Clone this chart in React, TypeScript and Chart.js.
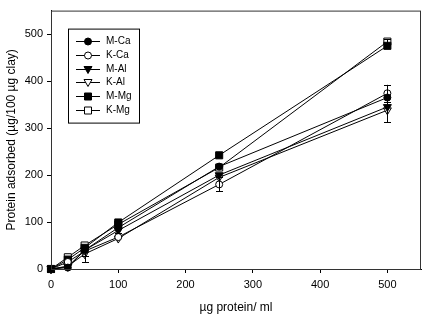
import React, { useEffect, useRef } from "react";
import { Chart, registerables } from "chart.js";

Chart.register(...registerables);

const xValues = [0, 25, 50, 100, 250, 500];
const seriesNames = ["M-Ca", "K-Ca", "M-Al", "K-Al", "M-Mg", "K-Mg"];
const mCa = [0, 3, 40, 88, 218, 365];
const kCa = [0, 15, 38, 68, 180, 374];
const mAl = [0, 5, 40, 82, 200, 345];
const kAl = [0, 6, 32, 65, 195, 338];
const mMg = [0, 20, 45, 99, 242, 475];
const kMg = [0, 25, 50, 95, 216, 484];
const mCaErr = [0, 0, 0, 0, 0, 0];
const kCaErr = [0, 0, 10, 0, 15, 18];
const mAlErr = [0, 0, 0, 6, 0, 0];
const kAlErr = [0, 0, 17, 0, 0, 26];
const mMgErr = [0, 0, 0, 0, 0, 0];
const kMgErr = [0, 0, 0, 0, 0, 5];
const xTicks = [0, 100, 200, 300, 400, 500];
const yTicks = [0, 100, 200, 300, 400, 500];

const FONT = "'Liberation Sans', Arial, Helvetica, sans-serif";

type Marker = { shape: "circle" | "tri" | "square"; filled: boolean };
const markers: Marker[] = [
  { shape: "circle", filled: true },
  { shape: "circle", filled: false },
  { shape: "tri", filled: true },
  { shape: "tri", filled: false },
  { shape: "square", filled: true },
  { shape: "square", filled: false },
];

function drawMarker(ctx: CanvasRenderingContext2D, m: Marker, x: number, y: number) {
  ctx.beginPath();
  if (m.shape === "circle") {
    ctx.arc(x, y, 3.5, 0, Math.PI * 2);
  } else if (m.shape === "tri") {
    ctx.moveTo(x - 4, y - 3);
    ctx.lineTo(x + 4, y - 3);
    ctx.lineTo(x, y + 4);
    ctx.closePath();
  } else {
    ctx.rect(x - 3.5, y - 3.5, 7, 7);
  }
  ctx.fillStyle = m.filled ? "#000" : "#fff";
  ctx.fill();
  ctx.strokeStyle = "#000";
  ctx.lineWidth = 1;
  ctx.stroke();
}

const frameAndLegend = {
  id: "frameAndLegend",
  afterDatasetsDraw(chart: any) {
    const ctx = chart.ctx as CanvasRenderingContext2D;
    const xs = chart.scales.x;
    const ys = chart.scales.y;
    ctx.save();
    ctx.strokeStyle = "#000";
    ctx.lineWidth = 1;
    chart.data.datasets.forEach((ds: any) => {
      const errs: number[] = ds.errors || [];
      ds.data.forEach((v: number, i: number) => {
        const e = errs[i];
        if (!e) return;
        const px = Math.round(xs.getPixelForValue(xValues[i])) + 0.5;
        const yTop = ys.getPixelForValue(v + e);
        const yBot = ys.getPixelForValue(v - e);
        ctx.beginPath();
        ctx.moveTo(px, yTop);
        ctx.lineTo(px, yBot);
        ctx.moveTo(px - 3.5, Math.round(yTop) + 0.5);
        ctx.lineTo(px + 3.5, Math.round(yTop) + 0.5);
        ctx.moveTo(px - 3.5, Math.round(yBot) + 0.5);
        ctx.lineTo(px + 3.5, Math.round(yBot) + 0.5);
        ctx.stroke();
      });
    });
    ctx.restore();
  },
  afterDraw(chart: any) {
    const ctx = chart.ctx as CanvasRenderingContext2D;
    const a = chart.chartArea;
    ctx.save();
    ctx.strokeStyle = "#333";
    ctx.lineWidth = 1;
    ctx.strokeRect(a.left + 0.5, a.top + 0.5, a.right - a.left - 1, a.bottom - a.top);
    // legend
    const x0 = a.left + 17;
    const y0 = a.top + 18;
    ctx.strokeStyle = "#000";
    ctx.strokeRect(x0 + 0.5, y0 + 0.5, 71, 94);
    ctx.font = `10px ${FONT}`;
    ctx.textBaseline = "middle";
    ctx.textAlign = "left";
    chart.data.datasets.forEach((ds: any, i: number) => {
      const y = Math.round(y0 + 12.5 + i * 13.7) + 0.5;
      ctx.beginPath();
      ctx.moveTo(x0 + 8, y);
      ctx.lineTo(x0 + 32, y);
      ctx.strokeStyle = "#000";
      ctx.lineWidth = 1;
      ctx.stroke();
      drawMarker(ctx, markers[i], x0 + 20, y);
      ctx.fillStyle = "#000";
      ctx.fillText(ds.label, x0 + 38, y);
    });
    ctx.restore();
  },
};

function pointProps(m: Marker) {
  return {
    pointStyle: m.shape === "circle" ? "circle" : m.shape === "tri" ? "triangle" : "rect",
    pointRotation: m.shape === "tri" ? 180 : 0,
    pointRadius: m.shape === "circle" ? 3.5 : m.shape === "tri" ? 4.6 : 5,
    pointBackgroundColor: m.filled ? "#000" : "#fff",
    pointBorderColor: "#000",
    pointBorderWidth: 1,
  };
}

export default function App() {
  const ref = useRef<HTMLCanvasElement | null>(null);
  useEffect(() => {
    document.body.style.margin = "0";
    const seriesData = [mCa, kCa, mAl, kAl, mMg, kMg];
    const seriesErr = [mCaErr, kCaErr, mAlErr, kAlErr, mMgErr, kMgErr];
    const datasets = seriesNames.map((name, i) => ({
      label: name,
      data: seriesData[i],
      errors: seriesErr[i],
      borderColor: "#000",
      borderWidth: 1,
      backgroundColor: "#000",
      fill: false,
      tension: 0,
      clip: false as any,
      ...pointProps(markers[i]),
    }));
    const chart = new Chart(ref.current as HTMLCanvasElement, {
      type: "line",
      data: { labels: xValues, datasets: datasets as any },
      options: {
        animation: false,
        responsive: false,
        devicePixelRatio: 1,
        layout: { padding: { top: 5, right: 4, left: 0, bottom: 0 } },
        plugins: { legend: { display: false }, tooltip: { enabled: false } },
        parsing: undefined,
        scales: {
          x: {
            type: "linear",
            min: 0,
            max: 550,
            afterFit: (s: any) => {
              s.height = 50;
            },
            afterBuildTicks: (s: any) => {
              s.ticks = xTicks.map((v) => ({ value: v }));
            },
            ticks: {
              color: "#000",
              padding: 5,
              maxRotation: 0,
              font: { family: FONT, size: 11 },
            },
            grid: { drawOnChartArea: false, drawTicks: true, tickLength: 4, color: "#000" },
            border: { color: "#000", width: 1 },
            title: {
              display: true,
              text: "µg protein/ ml",
              color: "#000",
              font: { family: FONT, size: 12 },
              padding: { top: 0, bottom: 4 },
            },
          },
          y: {
            type: "linear",
            min: 0,
            max: 550,
            afterFit: (s: any) => {
              s.width = 51;
            },
            afterBuildTicks: (s: any) => {
              s.ticks = yTicks.map((v) => ({ value: v }));
            },
            ticks: {
              color: "#000",
              padding: 4,
              font: { family: FONT, size: 11 },
            },
            grid: { drawOnChartArea: false, drawTicks: true, tickLength: 4, color: "#000" },
            border: { color: "#000", width: 1 },
            title: {
              display: true,
              text: "Protein adsorbed (µg/100 µg clay)",
              color: "#000",
              font: { family: FONT, size: 12 },
              padding: { top: 4, bottom: 0 },
            },
          },
        },
      } as any,
      plugins: [frameAndLegend],
    } as any);
    return () => chart.destroy();
  }, []);
  return (
    <div style={{ width: 427, height: 319 }}>
      <canvas ref={ref} width={427} height={319} />
    </div>
  );
}
